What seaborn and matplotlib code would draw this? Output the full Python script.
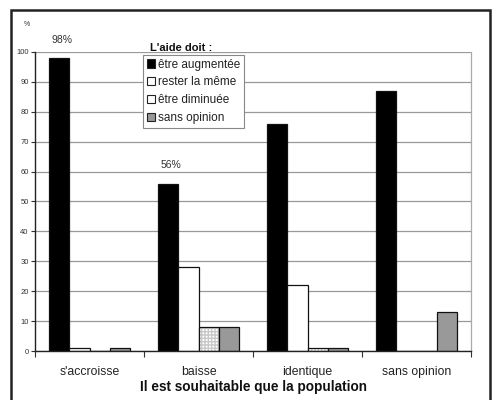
import matplotlib
matplotlib.use("Agg")
import matplotlib.pyplot as plt
import matplotlib.patches as mpatches
import seaborn as sns
import pandas as pd

categories = ["s'accroisse", "baisse", "identique", "sans opinion"]
responses = ["être augmentée", "rester la même", "être diminuée", "sans opinion"]
augmentee = [98, 56, 76, 87]
meme = [1, 28, 22, 0]
diminuee = [0, 8, 1, 0]
sans_opinion = [1, 8, 1, 13]
y_ticks = [0, 10, 20, 30, 40, 50, 60, 70, 80, 90, 100]
annotated = {0: "98%", 1: "56%"}

series = [augmentee, meme, diminuee, sans_opinion]
rows = []
for resp, vals in zip(responses, series):
    for cat, v in zip(categories, vals):
        rows.append({"cat": cat, "resp": resp, "val": v})
df = pd.DataFrame(rows)

sns.set_theme(style="white")
plt.rcParams["font.family"] = ["Liberation Sans", "DejaVu Sans"]

fig = plt.figure(figsize=(4.92, 4.0), dpi=100)
ax = fig.add_axes([35 / 492, 49 / 400, 436 / 492, 299 / 400])

colors = ["#000000", "#ffffff", "#ffffff", "#999999"]
sns.barplot(data=df, x="cat", y="val", hue="resp", hue_order=responses,
            order=categories, palette=colors, width=0.735, ax=ax,
            edgecolor="#111111", linewidth=0.9, legend=False, errorbar=None)

# light dotted grid fill for "être diminuée"
for patch in ax.containers[2]:
    patch.set_hatch("+++++")
    patch.set_edgecolor("#111111")
    patch._hatch_color = matplotlib.colors.to_rgba("#c8c8c8")

ax.set_ylim(0, 100)
ax.set_xlim(-0.5, 3.5)
ax.set_yticks(y_ticks)
ax.set_yticklabels([str(t) for t in y_ticks], fontsize=5.5, color="#333333")
ax.yaxis.grid(True, color="#999999", linewidth=0.9)
ax.set_axisbelow(True)
ax.tick_params(axis="y", which="major", left=True, length=3, width=0.8,
               color="#333333", pad=1.5)
ax.tick_params(axis="x", which="major", bottom=False, labelsize=8.8,
               pad=5, labelcolor="#222222")
ax.set_xticks([-0.5, 0.5, 1.5, 2.5, 3.5], minor=True)
ax.tick_params(axis="x", which="minor", bottom=True, length=4, width=0.8,
               color="#333333", direction="out")

ax.spines["top"].set_visible(False)
ax.spines["left"].set_color("#222222")
ax.spines["bottom"].set_color("#222222")
ax.spines["left"].set_linewidth(1.0)
ax.spines["bottom"].set_linewidth(1.0)
ax.spines["right"].set_color("#aaaaaa")
ax.spines["right"].set_linewidth(0.9)

ax.set_xlabel("Il est souhaitable que la population", fontsize=9.8,
              fontweight="bold", labelpad=1, color="#111111")
ax.set_ylabel("")

for i, txt in annotated.items():
    ax.text(i - 0.25, augmentee[i] + 4.5, txt, ha="center", va="bottom",
            fontsize=7.5, color="#333333")

fig.text(27 / 492, 1 - 25 / 400, "%", fontsize=5, ha="center", va="center",
         color="#333333")

handles = [mpatches.Patch(facecolor=c, edgecolor="#222222", linewidth=0.8)
           for c in colors]
leg = ax.legend(handles, responses, loc="upper left",
                bbox_to_anchor=((143 - 35) / 436, (351 - 55) / 299),
                fontsize=8.5, frameon=True, fancybox=False,
                edgecolor="#888888", framealpha=1, borderpad=0.3,
                labelspacing=0.5, handlelength=0.7, handleheight=0.7,
                handletextpad=0.25, borderaxespad=0)
leg.get_frame().set_linewidth(0.8)
for t in leg.get_texts():
    t.set_color("#222222")
fig.text(150 / 492, 1 - 48 / 400, "L'aide doit :", fontsize=8,
         fontweight="bold", ha="left", va="center", color="#111111")

# outer frame
frame = mpatches.Rectangle((11 / 492, -0.05), 479 / 492, 1.05 - 10 / 400,
                           transform=fig.transFigure, fill=False,
                           edgecolor="#222222", linewidth=1.8)
fig.patches.append(frame)

fig.savefig("out.png", dpi=100)
